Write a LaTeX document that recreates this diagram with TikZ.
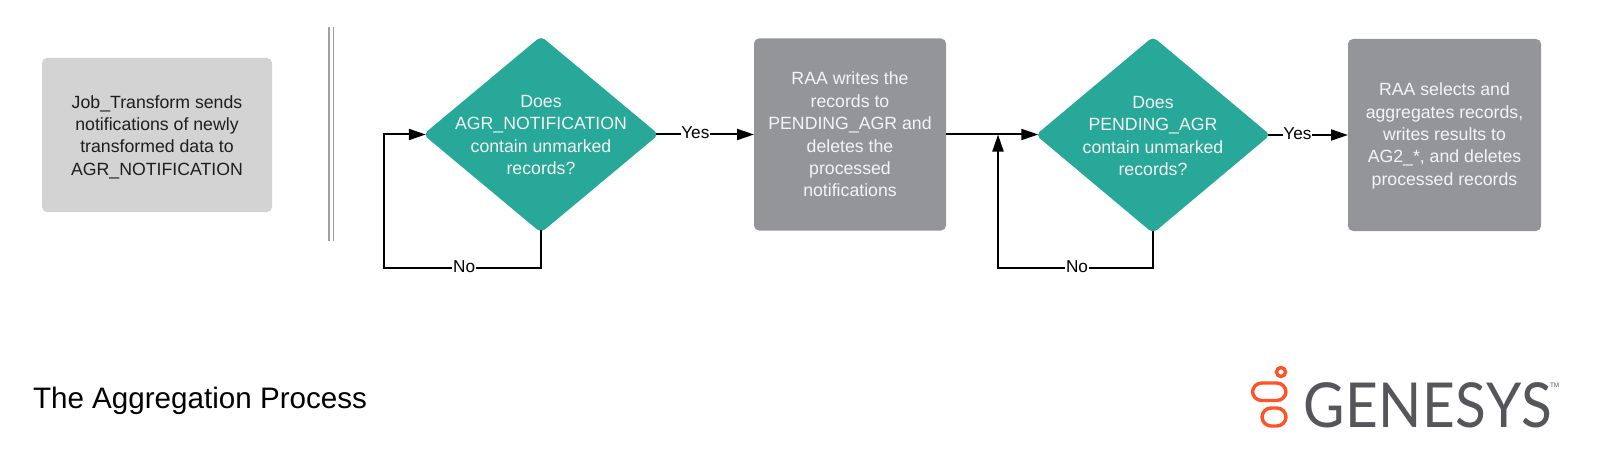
\documentclass[tikz,border=0pt]{standalone}
\usepackage{fontspec}
\setmainfont{Liberation Sans}
\newfontfamily\logofont[LetterSpace=1,FakeStretch=0.915]{Lato}
\usetikzlibrary{arrows.meta,shapes.geometric}
\definecolor{teal1}{HTML}{27A899}
\definecolor{grayd}{HTML}{939598}
\definecolor{grayl}{HTML}{D3D3D4}
\definecolor{inkw}{HTML}{F4F4F4}
\definecolor{inkb}{HTML}{1E1E1E}
\definecolor{orng}{HTML}{FF5227}
\definecolor{logog}{HTML}{55565A}
\definecolor{rule}{HTML}{A0A0A0}
\tikzset{
  x=0.5pt,y=-0.5pt,
  every node/.style={inner sep=0pt,outer sep=0pt},
  bodytext/.style={font=\fontsize{8.85}{11.2}\selectfont,align=center},
  lightbox/.style={rectangle,rounded corners=2.5pt,fill=grayl},
  darkbox/.style={rectangle,rounded corners=2.5pt,fill=grayd},
  decision/.style={diamond,rounded corners=2.5pt,fill=teal1,aspect=1.19,outer sep=-0.9pt},
  dectext/.style={bodytext,text=inkw},
  lighttext/.style={bodytext,text=inkb},
  flow/.style={line width=1pt,black,-{Triangle[length=8.5pt,width=5.5pt]}},
  edgelabel/.style={font=\fontsize{8.6}{10}\selectfont,fill=white,inner sep=0.3pt,text=black,yshift=0.8pt},
  divider/.style={line width=0.8pt,rule},
  logoline/.style={line width=1.7pt,orng,fill=none},
}
\begin{document}
\begin{tikzpicture}
\useasboundingbox (0,0) rectangle (1600,460);

\node[lightbox,minimum width=115pt,minimum height=77pt] (b1) at (157,135) {};
\node[lighttext] (tb1) at (157,137) {Job\_Transform sends\\notifications of newly\\transformed data to\\AGR\_NOTIFICATION};
\draw[divider] (329,27) -- (329,241);
\draw[divider] (333.5,27) -- (333.5,241);

\node[decision,minimum width=117pt,minimum height=97.5pt] (d1) at (541,134.5) {};
\node[dectext] (t1) at (541,135) {Does\\AGR\_NOTIFICATION\\contain unmarked\\records?};
\node[darkbox,minimum width=96pt,minimum height=96pt] (b2) at (850,134.5) {};
\node[dectext] (tb2) at (850,134.5) {RAA writes the\\records to\\PENDING\_AGR and\\deletes the\\processed\\notifications};
\node[decision,minimum width=116.5pt,minimum height=97.5pt] (d2) at (1153,135) {};
\node[dectext] (t2) at (1153,136) {Does\\PENDING\_AGR\\contain unmarked\\records?};
\node[darkbox,minimum width=96.5pt,minimum height=96pt] (b3) at (1444.5,135) {};
\node[dectext] (tb3) at (1444.5,136) {RAA selects and\\aggregates records,\\writes results to\\AG2\_*, and deletes\\processed records};

\coordinate (c1) at (384,268);
\coordinate (c2) at (998,268);
\coordinate (j2) at (998,134.5);

\draw[flow] (d1.east) -- node[edgelabel,pos=0.40] (yes1) {Yes} (b2.west);
\draw[flow] (b2.east) -- (b2.east -| d2.west);
\draw[flow] (d2.east) -- node[edgelabel,pos=0.37] (yes2) {Yes} (b3.west);
\draw[flow] (d1.south) |- node[edgelabel,pos=0.745] (no1) {No} (c1) |- (d1.west);
\draw[flow] (d2.south) |- node[edgelabel,pos=0.745] (no2) {No} (c2) -- (j2);

\node[anchor=base west,font=\fontsize{14.8}{16}\selectfont,text=black] (title) at (33,408) {The Aggregation Process};

\draw[logoline] (1281,372) circle (4.5);
\draw[logoline,rounded corners=4.6pt] (1252.5,383) rectangle (1286,400.5);
\draw[logoline,rounded corners=4.6pt] (1262,408) rectangle (1286,426);
\node[anchor=base west,font=\logofont\fontsize{31}{32}\selectfont,text=logog] (logo) at (1303,427) {GENESYS};
\node[anchor=base west,font=\fontsize{3.2}{4}\selectfont,text=logog] (tm) at (1550,387) {TM};
\end{tikzpicture}
\end{document}
